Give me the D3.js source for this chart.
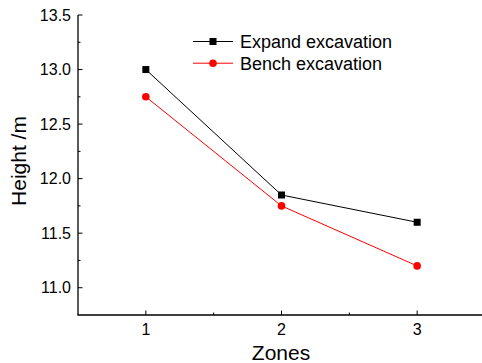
<!DOCTYPE html>
<html><head><meta charset="utf-8">
<script src="https://cdn.jsdelivr.net/npm/d3@7"></script>
<style>body{margin:0;background:#fff}svg{display:block}text{font-family:Arial,"Liberation Sans",sans-serif;fill:#000}</style>
</head><body>
<script>
const zones = [1, 2, 3];
const expandValues = [13.0, 11.85, 11.6];
const benchValues = [12.75, 11.75, 11.2];
const yTicks = [11.0, 11.5, 12.0, 12.5, 13.0, 13.5];
const seriesNames = ["Expand excavation", "Bench excavation"];

const W = 482, H = 363;
const svg = d3.select("body").append("svg").attr("width", W).attr("height", H);
const x = d3.scaleLinear().domain([0.5, 3.5]).range([78, 485]);
const y = d3.scaleLinear().domain([10.75, 13.5]).range([315, 15]);

// Y axis
const gy = svg.append("g").attr("transform", "translate(78,0)");
gy.append("line").attr("y1", y(13.5)).attr("y2", y(10.75)).attr("stroke", "#000").attr("stroke-width", 1.3);
d3.range(11.0, 13.51, 0.25).forEach(v => {
  const major = Math.abs((v * 2) - Math.round(v * 2)) < 1e-6;
  gy.append("line").attr("x1", 0).attr("x2", major ? 4.5 : 2.5).attr("y1", y(v)).attr("y2", y(v)).attr("stroke", "#000").attr("stroke-width", 1);
});
gy.selectAll("text.tl").data(yTicks).enter().append("text")
  .attr("x", -7).attr("y", d => y(d)).attr("dy", "0.36em").attr("text-anchor", "end")
  .attr("font-size", 16).text(d => d.toFixed(1));

// X axis
const gx = svg.append("g").attr("transform", "translate(0,315)");
gx.append("line").attr("x1", 77.5).attr("x2", 485).attr("stroke", "#000").attr("stroke-width", 1.3);
[1, 1.5, 2, 2.5, 3].forEach(v => {
  const major = Number.isInteger(v);
  gx.append("line").attr("x1", x(v)).attr("x2", x(v)).attr("y1", 0).attr("y2", major ? -4.5 : -2.5).attr("stroke", "#000");
});
gx.selectAll("text").data(zones).enter().append("text")
  .attr("x", d => x(d)).attr("y", 20).attr("text-anchor", "middle").attr("font-size", 16).text(d => d);

// Axis titles
svg.append("text").attr("x", 281).attr("y", 360).attr("text-anchor", "middle").attr("font-size", 21).text("Zones");
svg.append("text").attr("transform", "translate(26,161) rotate(-90)").attr("text-anchor", "middle").attr("font-size", 21).text("Height /m");

const line = d3.line().x((d, i) => x(zones[i])).y(d => y(d));
// Series
svg.append("path").datum(expandValues).attr("d", line).attr("fill", "none").attr("stroke", "#000").attr("stroke-width", 1);
svg.append("path").datum(benchValues).attr("d", line).attr("fill", "none").attr("stroke", "#ff0000").attr("stroke-width", 1);
svg.selectAll("rect.m").data(expandValues).enter().append("rect")
  .attr("x", (d, i) => x(zones[i]) - 3.5).attr("y", d => y(d) - 3.5).attr("width", 7).attr("height", 7).attr("fill", "#000");
svg.selectAll("circle.m").data(benchValues).enter().append("circle")
  .attr("cx", (d, i) => x(zones[i])).attr("cy", d => y(d)).attr("r", 3.8).attr("fill", "#ff0000");

// Legend
const lg = svg.append("g");
const rows = [{c: "#000", sq: true}, {c: "#ff0000", sq: false}];
rows.forEach((r, i) => {
  const yy = 41.5 + i * 21.7;
  lg.append("line").attr("x1", 193).attr("x2", 233).attr("y1", yy).attr("y2", yy).attr("stroke", r.c).attr("stroke-width", 1);
  if (r.sq) lg.append("rect").attr("x", 209.5).attr("y", yy - 3.5).attr("width", 7).attr("height", 7).attr("fill", r.c);
  else lg.append("circle").attr("cx", 213).attr("cy", yy).attr("r", 3.8).attr("fill", r.c);
  lg.append("text").attr("x", 240).attr("y", yy).attr("dy", "0.36em").attr("font-size", 18).text(seriesNames[i]);
});
</script>
</body></html>
